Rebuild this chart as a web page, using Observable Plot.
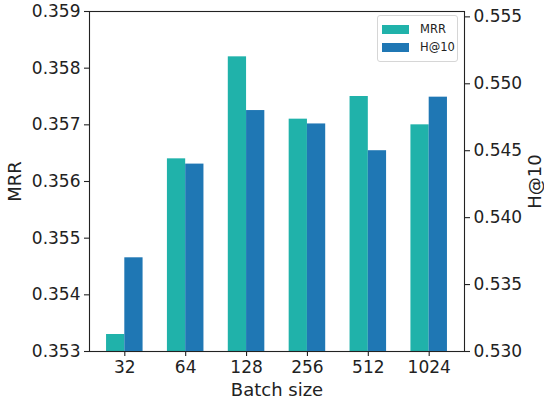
<!DOCTYPE html>
<html>
<head>
<meta charset="utf-8">
<script src="https://cdn.jsdelivr.net/npm/d3@7"></script>
<script src="https://cdn.jsdelivr.net/npm/@observablehq/plot@0.6"></script>
<style>
  html, body { margin: 0; padding: 0; background: #fff; }
  #chart { position: relative; width: 544px; height: 403px; font-family: "DejaVu Sans", sans-serif; }
  #chart svg { position: absolute; left: 0; top: 0; }
  #chart svg [aria-label="x-axis label"],
  #chart svg [aria-label="y-axis label"] { font-size: 18px; }
  .legend {
    position: absolute; left: 377px; top: 15px; width: 79px; height: 45px;
    border: 1px solid #d6d6d6; border-radius: 3px; background: rgba(255,255,255,0.85);
    font-size: 11.5px; color: #222; z-index: 5;
  }
  .legend .row { position: absolute; left: 4px; height: 14px; display: flex; align-items: center; }
  .legend .sw { width: 27px; height: 9px; margin-right: 11px; }
</style>
</head>
<body>
<div id="chart"></div>
<script>
// Batch-size sweep: MRR (left axis) and H@10 (right axis)
const batches = ["32", "64", "128", "256", "512", "1024"];
const mrr = [0.3533, 0.3564, 0.3582, 0.3571, 0.3575, 0.3570];
const hits10 = [0.537, 0.544, 0.548, 0.547, 0.545, 0.549];
const mrrTicks = [0.353, 0.354, 0.355, 0.356, 0.357, 0.358, 0.359];
const hitsTicks = [0.530, 0.535, 0.540, 0.545, 0.550, 0.555];
const seriesNames = ["MRR", "H@10"];
const seriesColors = ["#20b2aa", "#1f77b4"];

const barWidth = 0.3;
const rows = batches.map((b, i) => ({i, batch: b, mrr: mrr[i], hits: hits10[i]}));

const common = {
  width: 544,
  height: 403,
  marginLeft: 89,
  marginRight: 80,
  marginTop: 11,
  marginBottom: 52,
  x: {domain: [-0.58, 5.58]},
  style: {fontFamily: "DejaVu Sans", fontSize: "17px", color: "#222", background: "transparent", overflow: "visible"}
};

// Left chart: MRR bars, frame, batch-size axis and MRR axis
const left = Plot.plot({
  ...common,
  y: {domain: [0.353, 0.359]},
  marks: [
    Plot.rectY(rows, {x1: d => d.i - barWidth, x2: d => d.i, y: "mrr", fill: seriesColors[0], clip: true}),
    Plot.frame({stroke: "#222", strokeWidth: 1.1}),
    Plot.axisX({
      ticks: d3.range(batches.length), tickFormat: i => batches[i],
      tickSize: 5, tickPadding: 4, strokeWidth: 1.1,
      label: "Batch size", labelAnchor: "center", labelArrow: "none", labelOffset: 44
    }),
    Plot.axisY({
      ticks: mrrTicks, tickFormat: d3.format(".3f"),
      tickSize: 5, tickPadding: 4, strokeWidth: 1.1,
      label: "MRR", labelAnchor: "center", labelArrow: "none", labelOffset: 81
    })
  ]
});

// Right chart: H@10 bars on their own scale, overlaid on the left one
const right = Plot.plot({
  ...common,
  x: {domain: [-0.58, 5.58], axis: null},
  y: {domain: [0.530, 0.5554]},
  marks: [
    Plot.rectY(rows, {x1: d => d.i, x2: d => d.i + barWidth, y: "hits", fill: seriesColors[1], clip: true}),
    Plot.axisY({
      anchor: "right", ticks: hitsTicks, tickFormat: d3.format(".3f"),
      tickSize: 5, tickPadding: 4, strokeWidth: 1.1,
      label: "H@10", labelAnchor: "center", labelArrow: "none", labelOffset: 76
    })
  ]
});

const chart = document.getElementById("chart");
chart.append(left, right);

// Legend box in the upper right corner
const legend = document.createElement("div");
legend.className = "legend";
seriesNames.forEach((name, k) => {
  const row = document.createElement("div");
  row.className = "row";
  row.style.top = (6 + k * 18) + "px";
  const sw = document.createElement("span");
  sw.className = "sw";
  sw.style.background = seriesColors[k];
  const tx = document.createElement("span");
  tx.textContent = name;
  row.append(sw, tx);
  legend.append(row);
});
chart.append(legend);
</script>
</body>
</html>
